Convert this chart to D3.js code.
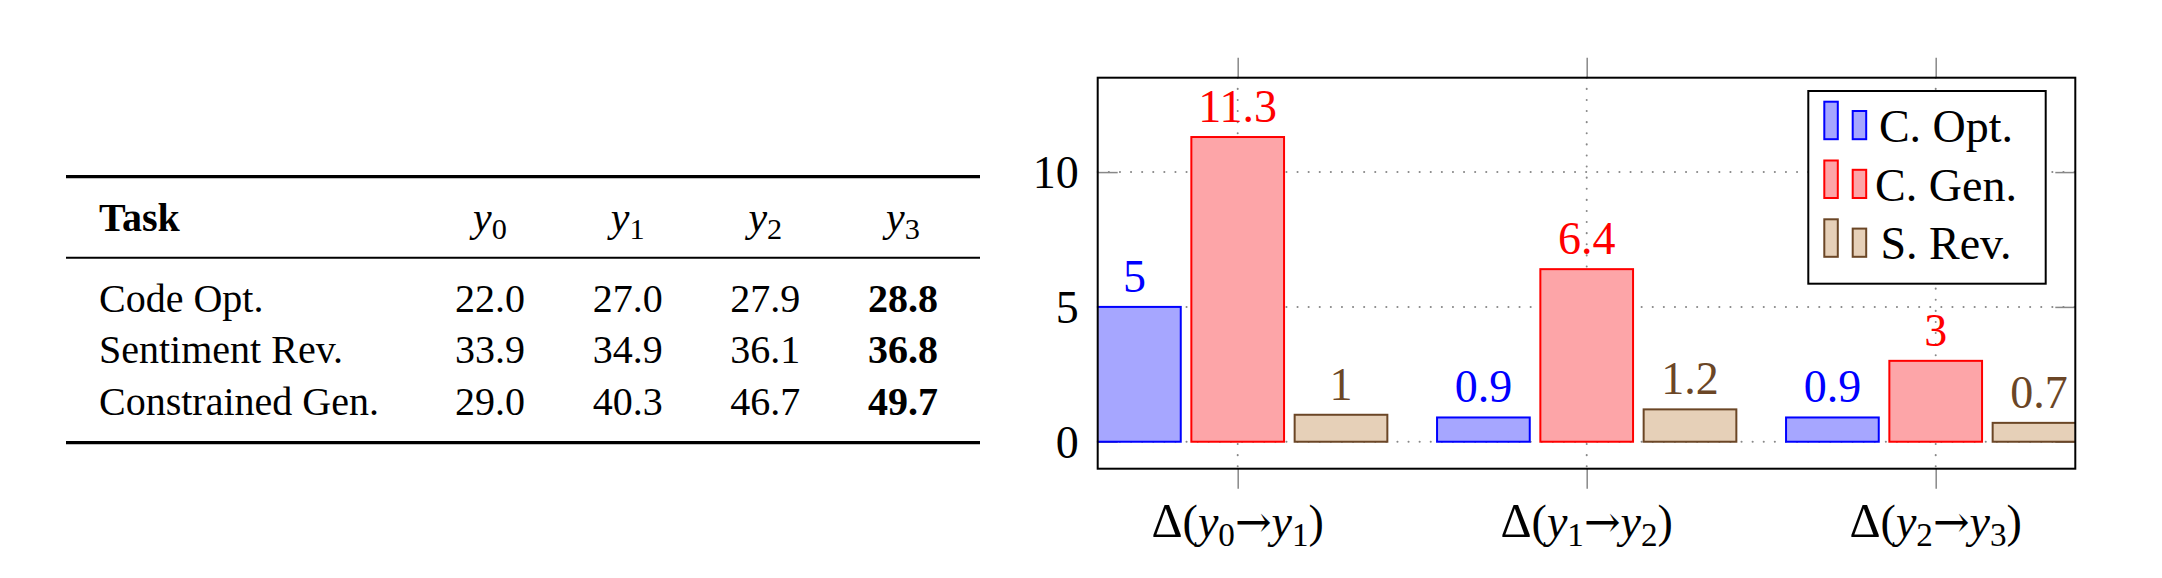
<!DOCTYPE html>
<html>
<head>
<meta charset="utf-8">
<script src="https://cdn.jsdelivr.net/npm/d3@7"></script>
<style>
  body { margin: 0; background: #fff; }
</style>
</head>
<body>
<script>
// table data
const tasks = ["Code Opt.", "Sentiment Rev.", "Constrained Gen."];
const steps = ["y0", "y1", "y2", "y3"];
const scores = [
  [22.0, 27.0, 27.9, 28.8],
  [33.9, 34.9, 36.1, 36.8],
  [29.0, 40.3, 46.7, 49.7]
];

// bar chart data
const categories = ["Δ(y0→y1)", "Δ(y1→y2)", "Δ(y2→y3)"];
const seriesNames = ["C. Opt.", "C. Gen.", "S. Rev."];
const cOpt = [5, 0.9, 0.9];
const cGen = [11.3, 6.4, 3];
const sRev = [1, 1.2, 0.7];
const yTicks = [0, 5, 10];

const seriesVals = [cOpt, cGen, sRev];
const strokes = ["#0000ff", "#ff0000", "#6b4626"];
const fills = ["#a6a6ff", "#fda5a8", "#e6d0b8"];

const W = 2162, H = 578;
const serif = "'Liberation Serif', 'Times New Roman', serif";

const svg = d3.select("body").append("svg")
  .attr("width", W)
  .attr("height", H)
  .style("font-family", serif);

// writes text like "Δ(y0→y1)" with italic y and subscript digits
function mathText(t, str, size) {
  let sub = false;
  for (let i = 0; i < str.length; i++) {
    const c = str[i];
    const ts = t.append("tspan").text(c);
    if (c === "y") {
      ts.style("font-style", "italic");
      if (sub) { ts.attr("dy", -size * 0.2); sub = false; }
    } else if (/[0-9]/.test(c) && i > 0 && str[i - 1] === "y") {
      ts.attr("font-size", size * 0.72).attr("dy", size * 0.2);
      sub = true;
    } else {
      if (c === "→") ts.attr("font-family", "'DejaVu Serif'").attr("font-size", size * 0.95);
      if (c === "Δ") ts.attr("font-size", size * 1.05);
      if (sub) { ts.attr("dy", -size * 0.2); sub = false; }
    }
  }
}

// ---------- table ----------
const tFont = 40;
const tLeft = 66, tRight = 980;
const colX = d3.scalePoint().domain(steps).range([490, 903]);
const rowY = d3.scalePoint().domain(tasks).range([311.7, 415]);

svg.append("line").attr("x1", tLeft).attr("x2", tRight)
  .attr("y1", 176.7).attr("y2", 176.7).attr("stroke", "#000").attr("stroke-width", 3.3);
svg.append("line").attr("x1", tLeft).attr("x2", tRight)
  .attr("y1", 257.7).attr("y2", 257.7).attr("stroke", "#000").attr("stroke-width", 2);
svg.append("line").attr("x1", tLeft).attr("x2", tRight)
  .attr("y1", 442.7).attr("y2", 442.7).attr("stroke", "#000").attr("stroke-width", 3.3);

svg.append("text")
  .attr("x", 99).attr("y", 231)
  .attr("font-size", tFont).attr("font-weight", "bold")
  .text("Task");

steps.forEach(s => {
  const t = svg.append("text")
    .attr("x", colX(s)).attr("y", 231)
    .attr("font-size", tFont + 2)
    .attr("text-anchor", "middle");
  mathText(t, s, tFont + 2);
});

tasks.forEach((task, r) => {
  svg.append("text")
    .attr("x", 99).attr("y", rowY(task))
    .attr("font-size", tFont)
    .text(task);
  scores[r].forEach((v, c) => {
    svg.append("text")
      .attr("x", colX(steps[c])).attr("y", rowY(task))
      .attr("font-size", tFont)
      .attr("text-anchor", "middle")
      .attr("font-weight", c === steps.length - 1 ? "bold" : "normal")
      .text(d3.format(".1f")(v));
  });
});

// ---------- bar chart ----------
const fs = 46;
const pLeft = 1097.7, pRight = 2075.3, pTop = 77.7, pBottom = 468.7;

const x = d3.scalePoint().domain(categories).range([1237.7, 1935.7]);
const xOff = d3.scalePoint().domain(seriesNames).range([-103.3, 103.3]);
const barW = 92.7;
const y = d3.scaleLinear().domain([-1, 13.5]).range([pBottom, pTop]);

svg.append("clipPath").attr("id", "plotclip")
  .append("rect")
  .attr("x", pLeft).attr("y", pTop)
  .attr("width", pRight - pLeft).attr("height", pBottom - pTop);

// grid
const grid = svg.append("g")
  .attr("stroke", "#888")
  .attr("stroke-width", 2)
  .attr("stroke-dasharray", "0.1 11")
  .attr("stroke-linecap", "round");
grid.selectAll(".gy").data(yTicks).enter().append("line")
  .attr("x1", pLeft).attr("x2", pRight)
  .attr("y1", d => y(d)).attr("y2", d => y(d));
grid.selectAll(".gx").data(categories).enter().append("line")
  .attr("x1", d => x(d)).attr("x2", d => x(d))
  .attr("y1", pTop).attr("y2", pBottom);

// solid tick marks
const yAxisL = d3.axisRight(y).tickValues(yTicks).tickSize(20).tickFormat("");
const yAxisR = d3.axisLeft(y).tickValues(yTicks).tickSize(20).tickFormat("");
const xAxisB = d3.axisBottom(x).tickSize(20).tickFormat("");
const xAxisT = d3.axisTop(x).tickSize(20).tickFormat("");
[[yAxisL, `translate(${pLeft},0)`], [yAxisR, `translate(${pRight},0)`],
 [xAxisB, `translate(0,${pBottom})`], [xAxisT, `translate(0,${pTop})`]].forEach(([ax, tr]) => {
  const g = svg.append("g").attr("transform", tr).call(ax);
  g.select(".domain").remove();
  g.selectAll(".tick line").attr("stroke", "#888").attr("stroke-width", 1.5);
});

// bars
const bars = svg.append("g").attr("clip-path", "url(#plotclip)");
seriesNames.forEach((name, s) => {
  bars.selectAll(".b" + s).data(seriesVals[s]).enter().append("rect")
    .attr("x", (d, i) => x(categories[i]) + xOff(name) - barW / 2)
    .attr("y", d => y(d))
    .attr("width", barW)
    .attr("height", d => y(0) - y(d))
    .attr("fill", fills[s])
    .attr("stroke", strokes[s])
    .attr("stroke-width", 2);
});

// value labels
seriesNames.forEach((name, s) => {
  svg.selectAll(".l" + s).data(seriesVals[s]).enter().append("text")
    .attr("x", (d, i) => x(categories[i]) + xOff(name))
    .attr("y", d => y(d) - 15)
    .attr("text-anchor", "middle")
    .attr("font-size", fs)
    .attr("fill", strokes[s])
    .text(d => d3.format("")(d));
});

// frame
svg.append("rect")
  .attr("x", pLeft).attr("y", pTop)
  .attr("width", pRight - pLeft).attr("height", pBottom - pTop)
  .attr("fill", "none").attr("stroke", "#000").attr("stroke-width", 2);

// y tick labels
const yLab = svg.append("g")
  .attr("transform", `translate(${pLeft},0)`)
  .call(d3.axisLeft(y).tickValues(yTicks).tickSize(0).tickPadding(19));
yLab.select(".domain").remove();
yLab.selectAll("text")
  .attr("font-family", serif).attr("font-size", fs).attr("fill", "#000")
  .attr("dy", "0.34em");

// x labels
categories.forEach(c => {
  const t = svg.append("text")
    .attr("x", x(c)).attr("y", 537)
    .attr("font-size", fs)
    .attr("text-anchor", "middle");
  mathText(t, c, fs);
});

// legend
const lg = svg.append("g");
lg.append("rect")
  .attr("x", 1808.3).attr("y", 91)
  .attr("width", 237.4).attr("height", 192.7)
  .attr("fill", "#fff").attr("stroke", "#000").attr("stroke-width", 2);
const rowP = d3.scalePoint().domain(seriesNames).range([141.7, 259.3]);
seriesNames.forEach((name, s) => {
  const base = rowP(name);
  lg.append("rect")
    .attr("x", 1824.3).attr("y", base - 40)
    .attr("width", 13.5).attr("height", 37.5)
    .attr("fill", fills[s]).attr("stroke", strokes[s]).attr("stroke-width", 2);
  lg.append("rect")
    .attr("x", 1852.7).attr("y", base - 30.7)
    .attr("width", 13.5).attr("height", 28.2)
    .attr("fill", fills[s]).attr("stroke", strokes[s]).attr("stroke-width", 2);
  lg.append("text")
    .attr("x", 1946).attr("y", base)
    .attr("text-anchor", "middle")
    .attr("font-size", fs)
    .text(name);
});
</script>
</body>
</html>
